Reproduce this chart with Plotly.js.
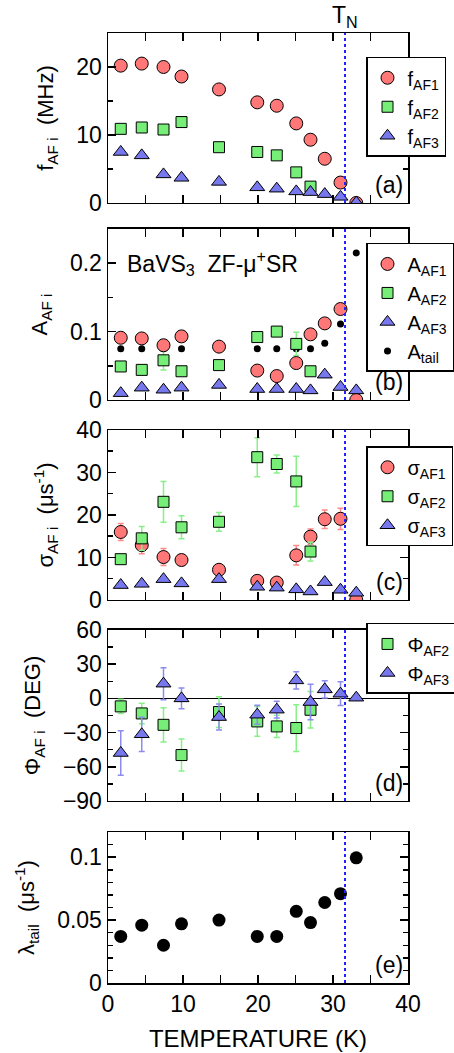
<!DOCTYPE html>
<html>
<head>
<meta charset="utf-8">
<script src="https://cdn.plot.ly/plotly-3.0.1.min.js"></script>
<style>html,body{margin:0;padding:0;background:#fff;}#chart{width:454px;height:1053px;}</style>
</head>
<body>
<div id="chart"></div>
<script>
// ---- data ----
const tempAll = [1.7, 4.5, 7.4, 9.8, 14.8, 19.9, 22.5, 25.1, 27.0, 28.9, 31.0, 33.1];
const tempAF2 = [1.7, 4.5, 7.4, 9.8, 14.8, 19.9, 22.5, 25.1, 27.0];
const tempNeel = 31.6;

const fAF1 = [20.2, 20.5, 20.0, 18.6, 16.7, 14.8, 14.3, 11.7, 9.3, 6.5, 3.0, 0.0];
const fAF2 = [10.9, 11.1, 10.8, 11.9, 8.2, 7.5, 7.0, 4.5, 2.4];
const fAF3 = [7.5, 7.0, 4.2, 3.7, 3.1, 2.3, 2.1, 1.7, 1.6, 1.3, 0.9, 0.05];

const aAF1 = [0.091, 0.090, 0.080, 0.093, 0.078, 0.043, 0.035, 0.054, 0.096, 0.112, 0.133, 0.0];
const aAF2 = [0.049, 0.044, 0.058, 0.042, 0.051, 0.092, 0.100, 0.082, 0.042];
const aAF2err = [0.003, 0.004, 0.014, 0.003, 0.004, 0.006, 0.003, 0.017, 0.003];
const aAF3 = [0.010, 0.018, 0.015, 0.018, 0.022, 0.016, 0.016, 0.016, 0.014, 0.037, 0.019, 0.014];
const aTail = [0.075, 0.075, 0.075, 0.075, 0.075, 0.075, 0.075, 0.075, 0.075, 0.083, 0.111, 0.215];

const sAF1 = [16.0, 12.9, 10.1, 9.4, 7.1, 4.5, 4.1, 10.5, 14.9, 19.0, 19.1, 0.0];
const sAF1err = [2.0, 2.0, 2.0, 0.5, 0.5, 0.5, 0.5, 2.3, 1.8, 2.2, 2.5, 0];
const sAF2 = [9.6, 14.5, 23.1, 17.1, 18.4, 33.6, 32.0, 27.9, 11.4];
const sAF2err = [0.8, 2.8, 4.8, 2.7, 2.2, 4.6, 2.1, 5.9, 2.2];
const sAF3 = [3.5, 3.8, 4.9, 3.9, 4.9, 3.1, 2.9, 2.5, 2.0, 4.2, 2.4, 1.7];

const phiAF2 = [-7.0, -13.2, -23.2, -49.7, -12.0, -20.2, -24.6, -26.0, -10.0];
const phiAF2err = [6.3, 9, 15, 14, 13.5, 13, 9.8, 20.5, 16];
const phiAF3 = [-47.9, -31.5, 12.9, 0, -16.4, -14.3, -9.9, 15.8, -3.2, 7.9, 4.1, 0.6];
const phiAF3err = [19.6, 15, 14, 9, 11.4, 8.3, 7.3, 7.6, 15.5, 7.5, 10.4, 0];

const lambdaTail = [0.037, 0.046, 0.030, 0.047, 0.050, 0.037, 0.037, 0.057, 0.048, 0.064, 0.071, 0.0995];

// ---- styles ----
const FONT = 'Liberation Sans, Arial, Helvetica, sans-serif';
const FS = 23;
const RED = '#ff7777', GREEN = '#77ee77', BLUE = '#7777ee';
const RED_E = '#ff8a8a', GREEN_E = '#88f088', BLUE_E = '#8c8cf0';
const circ = {symbol: 'circle', size: 13, color: RED, line: {color: '#000', width: 1}};
const sq = {symbol: 'square', size: 11, color: GREEN, line: {color: '#000', width: 1}};
const tri = {symbol: 'triangle-up', size: 13, color: BLUE, line: {color: '#000', width: 1}};
function err(arr, c) { return {type: 'data', array: arr, visible: true, color: c, thickness: 1.5, width: 3}; }

const traces = [
  // (a)
  {x: tempAll, y: fAF1, xaxis: 'x', yaxis: 'y', mode: 'markers', marker: circ, name: 'f<sub>AF1</sub>', legend: 'legend'},
  {x: tempAF2, y: fAF2, xaxis: 'x', yaxis: 'y', mode: 'markers', marker: sq, name: 'f<sub>AF2</sub>', legend: 'legend'},
  {x: tempAll, y: fAF3, xaxis: 'x', yaxis: 'y', mode: 'markers', marker: tri, name: 'f<sub>AF3</sub>', legend: 'legend'},
  // (b)
  {x: tempAll, y: aTail, xaxis: 'x2', yaxis: 'y2', mode: 'markers', marker: {symbol: 'circle', size: 7, color: '#000'}, name: 'A<sub>tail</sub>', legend: 'legend2', legendrank: 4},
  {x: tempAF2, y: aAF2, error_y: err(aAF2err, GREEN_E), xaxis: 'x2', yaxis: 'y2', mode: 'markers', marker: sq, name: 'A<sub>AF2</sub>', legend: 'legend2', legendrank: 2},
  {x: tempAll, y: aAF1, xaxis: 'x2', yaxis: 'y2', mode: 'markers', marker: circ, name: 'A<sub>AF1</sub>', legend: 'legend2', legendrank: 1},
  {x: tempAll, y: aAF3, xaxis: 'x2', yaxis: 'y2', mode: 'markers', marker: tri, name: 'A<sub>AF3</sub>', legend: 'legend2', legendrank: 3},
  // (c)
  {x: tempAll, y: sAF1, error_y: err(sAF1err, RED_E), xaxis: 'x3', yaxis: 'y3', mode: 'markers', marker: circ, name: 'σ<sub>AF1</sub>', legend: 'legend3'},
  {x: tempAF2, y: sAF2, error_y: err(sAF2err, GREEN_E), xaxis: 'x3', yaxis: 'y3', mode: 'markers', marker: sq, name: 'σ<sub>AF2</sub>', legend: 'legend3'},
  {x: tempAll, y: sAF3, xaxis: 'x3', yaxis: 'y3', mode: 'markers', marker: tri, name: 'σ<sub>AF3</sub>', legend: 'legend3'},
  // (d)
  {x: tempAF2, y: phiAF2, error_y: err(phiAF2err, GREEN_E), xaxis: 'x4', yaxis: 'y4', mode: 'markers', marker: sq, name: 'Φ<sub>AF2</sub>', legend: 'legend4'},
  {x: tempAll, y: phiAF3, error_y: err(phiAF3err, BLUE_E), xaxis: 'x4', yaxis: 'y4', mode: 'markers', marker: tri, name: 'Φ<sub>AF3</sub>', legend: 'legend4'},
  // (e)
  {x: tempAll, y: lambdaTail, xaxis: 'x5', yaxis: 'y5', mode: 'markers', marker: {symbol: 'circle', size: 13, color: '#000'}, name: 'λ<sub>tail</sub>', showlegend: false}
];

const domains = [[0.8211, 1.0], [0.6137, 0.7937], [0.4032, 0.5821], [0.1916, 0.3716], [0.0, 0.1589]];
const yCfg = [
  {range: [0, 25], dtick: 10, minor: 5, title: 'f<sub>AF i</sub>  (MHz)'},
  {range: [0, 0.25], dtick: 0.1, minor: 0.05, title: 'A<sub>AF i</sub>'},
  {range: [0, 40], dtick: 10, minor: 5, title: 'σ<sub>AF i</sub>  (μs<sup>-1</sup>)'},
  {range: [-90, 60], dtick: 30, minor: 15, title: 'Φ<sub>AF i</sub>  (DEG)'},
  {range: [0, 0.12], dtick: 0.05, minor: 0.01, title: 'λ<sub>tail</sub>  (μs<sup>-1</sup>)'}
];

const layout = {
  width: 454, height: 1053,
  margin: {l: 108, r: 46, t: 33, b: 70, autoexpand: false},
  paper_bgcolor: '#fff', plot_bgcolor: '#fff',
  font: {family: FONT, size: FS, color: '#000'},
  shapes: [], annotations: []
};

const legBase = {xanchor: 'left', yanchor: 'top', x: 0.86, bgcolor: '#fff', bordercolor: '#000', borderwidth: 1.5,
  font: {family: FONT, size: 20, color: '#000'}, itemwidth: 30, tracegroupgap: 0};
layout.legend = Object.assign({}, legBase, {y: 0.975});
layout.legend2 = Object.assign({}, legBase, {y: 0.779});
layout.legend3 = Object.assign({}, legBase, {y: 0.565});
layout.legend4 = Object.assign({}, legBase, {y: 0.379});

const panelLabels = ['(a)', '(b)', '(c)', '(d)', '(e)'];
for (let i = 0; i < 5; i++) {
  const n = i === 0 ? '' : String(i + 1);
  const yc = yCfg[i];
  layout['xaxis' + n] = {
    domain: [0, 1], anchor: 'y' + n, range: [0, 40], dtick: 10, tick0: 0,
    showticklabels: i === 4, ticks: 'inside', ticklen: 8, tickwidth: 1.5, tickcolor: '#000',
    minor: {dtick: 5, ticks: 'inside', ticklen: 8, tickwidth: 1.5, tickcolor: '#000'},
    showline: true, linecolor: '#000', linewidth: 1.5, mirror: 'ticks',
    showgrid: false, zeroline: false, fixedrange: true,
    tickfont: {family: FONT, size: FS, color: '#000'},
    title: i === 4 ? {text: 'TEMPERATURE (K)', font: {family: FONT, size: 24}, standoff: 14} : {text: ''}
  };
  layout['yaxis' + n] = {
    domain: domains[i], anchor: 'x' + n, range: yc.range, dtick: yc.dtick, tick0: 0,
    ticks: 'inside', ticklen: 8, tickwidth: 1.5, tickcolor: '#000',
    minor: {dtick: yc.minor, ticks: 'inside', ticklen: 5, tickwidth: 1.5, tickcolor: '#000'},
    showline: true, linecolor: '#000', linewidth: 1.5, mirror: 'ticks',
    showgrid: false, zeroline: i === 3, zerolinecolor: '#000', zerolinewidth: 1.5, fixedrange: true,
    tickfont: {family: FONT, size: FS, color: '#000'},
    title: {text: yc.title, font: {family: FONT, size: 22}, standoff: 16}
  };
  layout.shapes.push({type: 'line', xref: 'x' + n, yref: 'y' + n + ' domain', x0: tempNeel, x1: tempNeel, y0: 0, y1: 1,
    line: {color: '#2222ff', width: 2, dash: 'dot'}, layer: 'above'});
  layout.annotations.push({xref: 'x' + n + ' domain', yref: 'y' + n + ' domain', x: 0.99, y: 0.02, xanchor: 'right', yanchor: 'bottom',
    text: panelLabels[i], showarrow: false, font: {family: FONT, size: FS, color: '#000'}});
}
layout.annotations.push({xref: 'x', yref: 'paper', x: tempNeel, y: 1.0, yanchor: 'bottom', xanchor: 'center', yshift: 0,
  text: 'T<sub>N</sub>', showarrow: false, font: {family: FONT, size: FS, color: '#000'}});
layout.annotations.push({xref: 'x2', yref: 'y2', x: 2.3, y: 0.2, xanchor: 'left', yanchor: 'middle',
  text: 'BaVS<sub>3</sub>  ZF-μ<sup>+</sup>SR', showarrow: false, font: {family: FONT, size: FS, color: '#000'}});

Plotly.newPlot('chart', traces, layout, {displayModeBar: false, staticPlot: true});
</script>
</body>
</html>
